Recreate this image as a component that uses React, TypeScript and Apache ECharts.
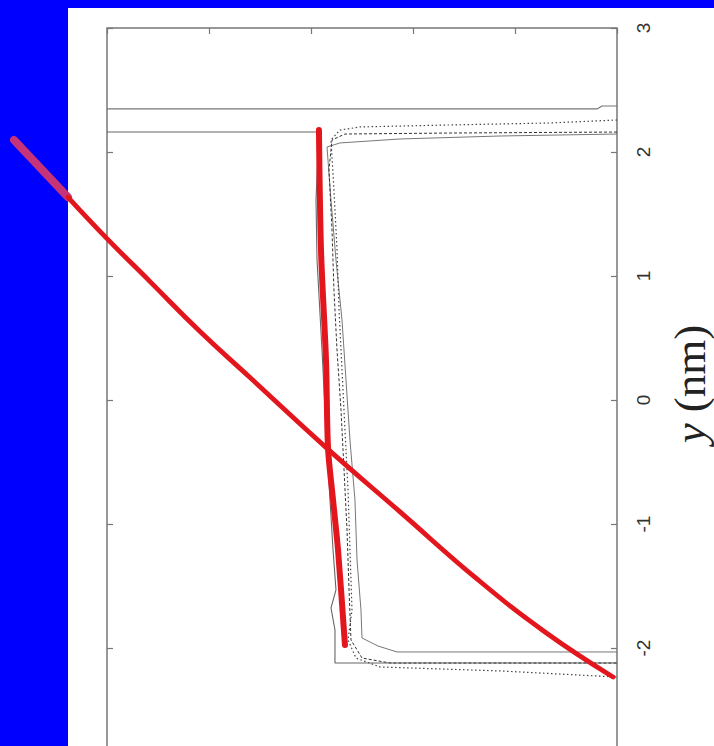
import React, { useEffect, useRef } from "react";
import * as echarts from "echarts";

// Solid well outline
const wellLine: [number, number][] = [
  [0, 2.161], [2.078, 2.161], [2.049, 1.613], [2.059, 1.129], [2.108, 0.403],
  [2.157, -0.403], [2.216, -1.21], [2.245, -1.532], [2.196, -1.677],
  [2.235, -1.855], [2.235, -2.121], [5, -2.121],
];

// Upper solid reference line
const topLine: [number, number][] = [
  [0, 2.347], [4.804, 2.347], [4.853, 2.371], [5, 2.371],
];

// Profile 1 (thin solid)
const profileSolid: [number, number][] = [
  [5, 2.145], [3.853, 2.129], [2.873, 2.105], [2.284, 2.073], [2.157, 2.04],
  [2.196, 1.613], [2.245, 1.129], [2.304, 0.645], [2.343, 0.161],
  [2.382, -0.323], [2.431, -0.806], [2.451, -1.29], [2.49, -1.694],
  [2.5, -1.919], [2.657, -1.984], [2.843, -2.032], [5, -2.032],
];

// Profile 2 (dashed)
const profileDashed: [number, number][] = [
  [5, 2.161], [3.363, 2.153], [2.333, 2.145], [2.206, 2.097], [2.176, 1.855],
  [2.206, 1.371], [2.225, 0.887], [2.255, 0.403], [2.294, -0.081],
  [2.324, -0.565], [2.353, -1.048], [2.373, -1.532], [2.392, -1.935],
  [2.5, -2.081], [2.775, -2.121], [5, -2.121],
];

// Profile 3 (dotted)
const profileDotted: [number, number][] = [
  [5, 2.258], [4.343, 2.234], [3.363, 2.218], [2.48, 2.202], [2.284, 2.177],
  [2.196, 2.097], [2.225, 1.694], [2.255, 1.21], [2.275, 0.726],
  [2.304, 0.242], [2.333, -0.242], [2.363, -0.726], [2.382, -1.21],
  [2.402, -1.694], [2.363, -1.935], [2.441, -2.081], [2.676, -2.153],
  [3.853, -2.185], [5, -2.234],
];

// Hand-drawn red near-vertical line
const redVertical: [number, number][] = [
  [2.078, 2.177], [2.098, 1.21], [2.147, 0.323], [2.167, -0.387],
  [2.216, -0.806], [2.265, -1.21], [2.333, -1.976],
];

// Hand-drawn red diagonal line (part over the blue margin, then the rest)
const redDiagonalOut: [number, number][] = [
  [-0.912, 2.097], [-0.382, 1.635],
];
const redDiagonal: [number, number][] = [
  [-0.382, 1.635], [0, 1.302], [0.422, 0.955], [0.912, 0.552], [1.402, 0.181],
  [2.157, -0.39], [2.873, -0.902], [3.627, -1.443], [4.294, -1.871],
  [4.961, -2.234],
];

export default function App() {
  const ref = useRef<HTMLDivElement>(null);
  useEffect(() => {
    document.body.style.margin = "0";
    if (!ref.current) return;
    const chart = echarts.init(ref.current, undefined, { renderer: "svg" });
    const tickStyle = { show: true, inside: true, length: 6, lineStyle: { color: "#777", width: 1.2 } };
    const xBase = {
      type: "value" as const, min: 0, max: 5, interval: 1, gridIndex: 0,
      axisLine: { show: false, onZero: false }, axisTick: tickStyle,
      axisLabel: { show: false }, splitLine: { show: false },
    };
    const yBase = {
      type: "value" as const, min: -3, max: 3, interval: 1, gridIndex: 0,
      axisLine: { show: false, onZero: false }, axisTick: tickStyle, splitLine: { show: false },
    };
    const thin = (data: [number, number][], color: string, width: number, type: any) => ({
      type: "line", data, showSymbol: false, symbol: "none", smooth: false,
      xAxisIndex: 0, yAxisIndex: 0,
      lineStyle: { color, width, type }, z: 3,
    });
    chart.setOption({
      animation: false,
      backgroundColor: "#ffffff",
      graphic: [
        { type: "rect", z: -10, shape: { x: 0, y: 0, width: 68, height: 800 }, style: { fill: "#0000ff" } },
        { type: "rect", z: -10, shape: { x: 0, y: 0, width: 714, height: 8 }, style: { fill: "#0000ff" } },
        {
          type: "text", z: 5, x: 690, y: 384, rotation: Math.PI / 2,
          style: {
            text: "{i|y} (nm)", fill: "#222", align: "center", verticalAlign: "middle",
            font: "45px 'Liberation Serif'",
            rich: { i: { fontStyle: "italic", fontSize: 45, fontFamily: "Liberation Serif", fill: "#222" } },
          },
        },
      ],
      grid: [
        { left: 107, top: 28, width: 510, height: 744, show: true, borderColor: "#777", borderWidth: 1.5, backgroundColor: "transparent" },
        { left: 5, top: 28, width: 612, height: 744, show: false },
      ],
      xAxis: [
        { ...xBase, position: "bottom" },
        { ...xBase, position: "top" },
        { type: "value", gridIndex: 1, min: -1, max: 5, show: false },
      ],
      yAxis: [
        {
          ...yBase, position: "right",
          axisLabel: { show: true, showMinLabel: false, rotate: 90, margin: 17, color: "#333", fontSize: 19, fontFamily: "Liberation Sans" },
        },
        { ...yBase, position: "left", axisLabel: { show: false } },
        { type: "value", gridIndex: 1, min: -3, max: 3, show: false },
      ],
      series: [
        thin(topLine, "#777", 1.2, "solid"),
        thin(wellLine, "#666", 1.1, "solid"),
        thin(profileSolid, "#777", 1, "solid"),
        thin(profileDashed, "#333", 1, [3, 2]),
        thin(profileDotted, "#444", 1.2, [1.5, 2.5]),
        {
          type: "line", data: redVertical, showSymbol: false, symbol: "none", smooth: 0.3,
          xAxisIndex: 0, yAxisIndex: 0,
          lineStyle: { color: "#e3161e", width: 6, cap: "round" }, z: 4,
        },
        {
          type: "line", data: redDiagonalOut, showSymbol: false, symbol: "none",
          xAxisIndex: 2, yAxisIndex: 2,
          lineStyle: { color: "#c63378", width: 8, cap: "round" }, z: 4,
        },
        {
          type: "line", data: redDiagonal, showSymbol: false, symbol: "none", smooth: 0.45,
          xAxisIndex: 2, yAxisIndex: 2,
          lineStyle: { color: "#e3161e", width: 4.8, cap: "round" }, z: 4,
        },
      ],
    });
    return () => chart.dispose();
  }, []);
  return (
    <div style={{ position: "fixed", left: 0, top: 0, width: 714, height: 746, overflow: "hidden" }}>
      <div ref={ref} style={{ width: 714, height: 800 }} />
    </div>
  );
}
